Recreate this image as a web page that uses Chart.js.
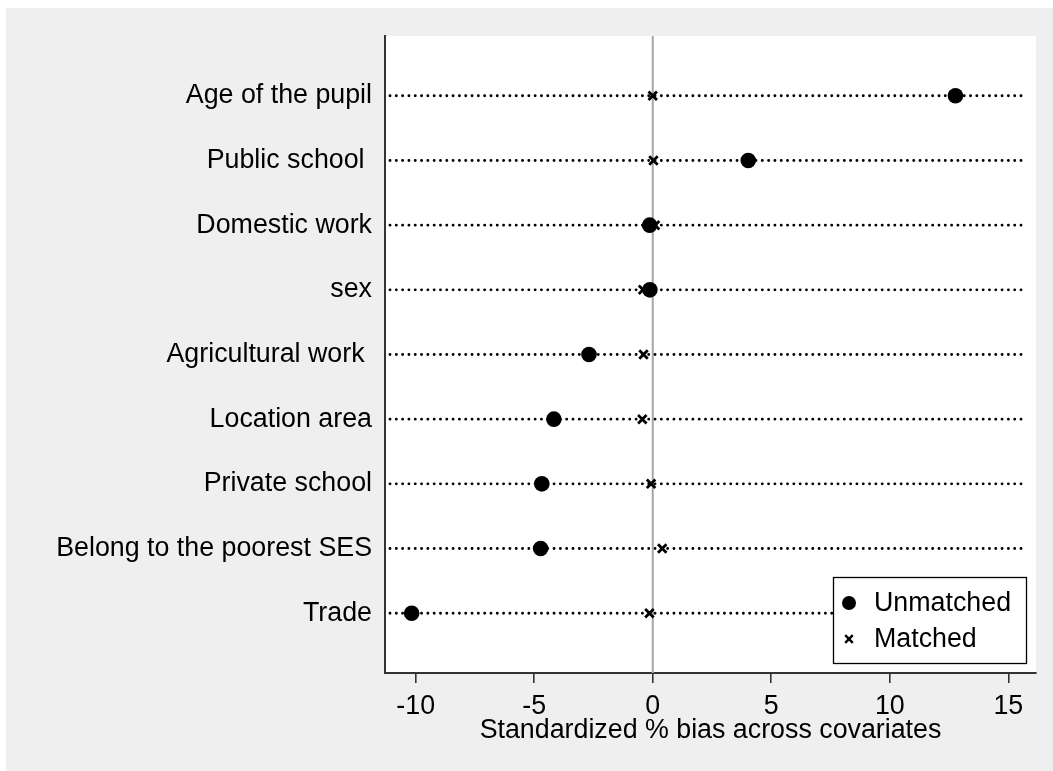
<!DOCTYPE html>
<html>
<head>
<meta charset="utf-8">
<script src="https://cdn.jsdelivr.net/npm/chart.js@4/dist/chart.umd.min.js"></script>
<style>
  html, body { margin: 0; padding: 0; background: #ffffff; }
  #wrap { position: relative; width: 1053px; height: 771px; }
  canvas { display: block; }
</style>
</head>
<body>
<div id="wrap"><canvas id="c" width="1053" height="771"></canvas></div>
<script>
// Covariates, top to bottom
const categories = [
  'Age of the pupil',
  'Public school ',
  'Domestic work',
  'sex',
  'Agricultural work ',
  'Location area',
  'Private school',
  'Belong to the poorest SES',
  'Trade'
];
// Standardized % bias before and after matching
const unmatched = [12.77, 4.03, -0.13, -0.12, -2.69, -4.17, -4.68, -4.73, -10.17];
const matched   = [0.00, 0.03, 0.10, -0.41, -0.39, -0.44, -0.07, 0.40, -0.14];
const xTicks = [-10, -5, 0, 5, 10, 15];
const seriesNames = ['Unmatched', 'Matched'];
const xTitle = 'Standardized % bias across covariates';

const FONT = '"Liberation Sans", Arial, Helvetica, sans-serif';
const FS = 26.8;
const AXIS = '#333333';

const toPoints = vals => vals.map((v, i) => ({ x: v, y: i }));

// Page background: grey panel with thin white margin top/left
const panelBg = {
  id: 'panelBg',
  beforeDraw(chart) {
    const ctx = chart.ctx;
    ctx.save();
    ctx.fillStyle = '#ffffff';
    ctx.fillRect(0, 0, chart.width, chart.height);
    ctx.fillStyle = '#efefef';
    ctx.fillRect(6, 8, chart.width - 6, chart.height - 8);
    const a = chart.chartArea;
    ctx.fillStyle = '#ffffff';
    ctx.fillRect(a.left, a.top, a.right - a.left, a.bottom - a.top);
    ctx.restore();
  }
};

// Reference line at zero and dotted guide per covariate
const guides = {
  id: 'guides',
  beforeDatasetsDraw(chart) {
    const ctx = chart.ctx, a = chart.chartArea;
    const xs = chart.scales.x, ys = chart.scales.y;
    ctx.save();
    const x0 = xs.getPixelForValue(0);
    ctx.strokeStyle = '#a6a6a6';
    ctx.lineWidth = 2;
    ctx.beginPath();
    ctx.moveTo(x0, a.top);
    ctx.lineTo(x0, a.bottom);
    ctx.stroke();

    ctx.strokeStyle = '#000000';
    ctx.lineWidth = 2.9;
    ctx.lineCap = 'round';
    ctx.setLineDash([0.01, 6.3]);
    categories.forEach((_, i) => {
      const y = ys.getPixelForValue(i);
      ctx.beginPath();
      ctx.moveTo(a.left + 5, y);
      ctx.lineTo(a.right - 12, y);
      ctx.stroke();
    });
    ctx.restore();
  }
};

// Boxed legend in the lower right corner of the plot
const boxLegend = {
  id: 'boxLegend',
  afterDraw(chart) {
    const ctx = chart.ctx, a = chart.chartArea;
    const bx = a.right - 203, by = a.bottom - 96, bw = 193, bh = 86;
    ctx.save();
    ctx.fillStyle = '#ffffff';
    ctx.fillRect(bx, by, bw, bh);
    ctx.strokeStyle = '#000000';
    ctx.lineWidth = 1.3;
    ctx.strokeRect(bx + 0.5, by + 0.5, bw, bh);
    ctx.font = FS + 'px ' + FONT;
    ctx.textBaseline = 'middle';
    ctx.fillStyle = '#000000';
    chart.data.datasets.forEach((ds, i) => {
      const cy = by + 26 + i * 36;
      const cx = bx + 16;
      if (ds.pointStyle === 'circle') {
        ctx.beginPath();
        ctx.arc(cx, cy, 7, 0, Math.PI * 2);
        ctx.fill();
      } else {
        ctx.lineWidth = 2.4;
        ctx.beginPath();
        ctx.moveTo(cx - 3.8, cy - 3.8); ctx.lineTo(cx + 3.8, cy + 3.8);
        ctx.moveTo(cx + 3.8, cy - 3.8); ctx.lineTo(cx - 3.8, cy + 3.8);
        ctx.stroke();
      }
      ctx.fillText(ds.label, bx + 41, cy + 1);
    });
    ctx.restore();
  }
};

new Chart(document.getElementById('c'), {
  type: 'scatter',
  data: {
    datasets: [
      {
        label: seriesNames[0],
        data: toPoints(unmatched),
        pointStyle: 'circle',
        pointRadius: 7.8,
        pointHoverRadius: 7.8,
        backgroundColor: '#000000',
        borderColor: '#000000',
        borderWidth: 0
      },
      {
        label: seriesNames[1],
        data: toPoints(matched),
        pointStyle: 'crossRot',
        pointRadius: 6,
        pointHoverRadius: 6,
        backgroundColor: '#000000',
        borderColor: '#000000',
        borderWidth: 2.8
      }
    ]
  },
  options: {
    responsive: false,
    animation: false,
    events: [],
    layout: { padding: { top: 36, right: 17, left: 0, bottom: 0 } },
    plugins: {
      legend: { display: false },
      tooltip: { enabled: false }
    },
    scales: {
      x: {
        type: 'linear',
        min: -11.295,
        max: 16.168,
        afterBuildTicks: s => { s.ticks = xTicks.map(v => ({ value: v })); },
        afterFit: s => { s.height = 771 - 673; },
        border: { display: true, color: AXIS, width: 2 },
        grid: { drawOnChartArea: false, drawTicks: true, tickLength: 10, color: AXIS, lineWidth: 1.6 },
        ticks: { color: '#000000', font: { family: FONT, size: FS }, padding: 8, maxRotation: 0 },
        title: {
          display: true, text: xTitle, color: '#000000',
          font: { family: FONT, size: FS }, padding: { top: 0, bottom: 24 }
        }
      },
      y: {
        type: 'linear',
        reverse: true,
        min: -0.925,
        max: 8.925,
        afterBuildTicks: s => { s.ticks = categories.map((_, i) => ({ value: i })); },
        afterFit: s => { s.width = 385; },
        border: { display: true, color: AXIS, width: 2 },
        grid: { display: false, drawTicks: false, tickLength: 0 },
        ticks: {
          color: '#000000', font: { family: FONT, size: FS }, padding: 13,
          callback: v => categories[v]
        }
      }
    }
  },
  plugins: [panelBg, guides, boxLegend]
});
</script>
</body>
</html>
